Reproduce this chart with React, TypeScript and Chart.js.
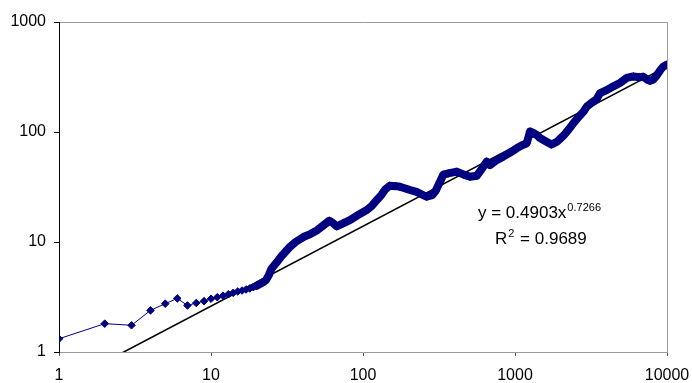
import React, { useEffect, useRef } from 'react';
import { Chart, registerables } from 'chart.js';

Chart.register(...registerables);

const xValues = [
  1, 2, 3, 4, 5, 6, 7, 8, 9, 10,
  11, 12, 13, 14, 15, 16, 17, 18, 19, 20,
  22, 23, 24, 25, 27, 29, 31, 33, 36, 40.5,
  45, 50, 55, 60, 63, 67, 74, 82, 92, 106,
  115, 123, 132, 140, 150, 165, 175, 204, 225, 262,
  285, 300, 321, 338, 364, 414, 460, 506, 560, 610,
  651, 685, 750, 837, 930, 1025, 1120, 1194, 1256, 1320,
  1390, 1460, 1600, 1740, 1900, 2090, 2250, 2420, 2600, 2820,
  2965, 3200, 3440, 3630, 4000, 4440, 4900, 5430, 6000, 6610,
  6980, 7400, 7730, 8130, 8540, 8770, 9100, 9460, 10000,
];
const yValues = [
  1.32, 1.81, 1.75, 2.39, 2.75, 3.07, 2.65, 2.79, 2.9, 3.05,
  3.15, 3.25, 3.35, 3.45, 3.55, 3.62, 3.7, 3.78, 3.88, 4.0,
  4.3, 4.5, 5.0, 5.7, 6.5, 7.4, 8.2, 9.0, 10.0, 11.1,
  11.8, 12.8, 14.2, 15.6, 15.0, 13.9, 14.8, 15.8, 17.5, 19.5,
  21.5, 24, 26.7, 30, 32.5, 32.2, 31.8, 29.7, 28.6, 25.8,
  26.7, 29, 35.3, 41, 42, 43.6, 41, 39.2, 40, 47,
  53.8, 50, 55, 59.7, 65, 71, 76, 79, 101, 98,
  94, 88, 82, 77, 82, 93, 105, 120, 135, 153,
  170, 185, 198, 226, 240, 260, 279, 310, 320, 315,
  318, 300, 292, 300, 325, 344, 370, 394, 409,
];

// Power trend line y = a * x^b
const trendCoef = 0.4903;
const trendExp = 0.7266;
const rSquared = 0.9689;

const xTicks = [1, 10, 100, 1000, 10000];
const yTicks = [1, 10, 100, 1000];

const FONT = '"Liberation Sans", Arial, sans-serif';

const equationPlugin = {
  id: 'equationText',
  afterDraw(chart: any) {
    const ctx = chart.ctx;
    ctx.save();
    ctx.fillStyle = '#000';
    ctx.textBaseline = 'alphabetic';
    ctx.textAlign = 'left';
    const main = `y = ${trendCoef}x`;
    ctx.font = `17px ${FONT}`;
    const x0 = 478;
    const y0 = 218;
    ctx.fillText(main, x0, y0);
    const w = ctx.measureText(main).width;
    ctx.font = `11px ${FONT}`;
    ctx.fillText(String(trendExp), x0 + w + 1, y0 - 7);

    const x1 = 495;
    const y1 = 244;
    ctx.font = `17px ${FONT}`;
    ctx.fillText('R', x1, y1);
    const wr = ctx.measureText('R').width;
    ctx.font = `11px ${FONT}`;
    ctx.fillText('2', x1 + wr + 1, y1 - 7);
    const w2 = ctx.measureText('2').width;
    ctx.font = `17px ${FONT}`;
    ctx.fillText(` = ${rSquared}`, x1 + wr + w2 + 2, y1);
    ctx.restore();
  },
};

export default function App() {
  const ref = useRef<HTMLCanvasElement | null>(null);

  useEffect(() => {
    if (!ref.current) return;
    const series = xValues.map((x, i) => ({ x, y: yValues[i] }));
    const xMin = xTicks[0];
    const xMax = xTicks[xTicks.length - 1];
    const trend = [xMin, xMax].map((x) => ({ x, y: trendCoef * Math.pow(x, trendExp) }));

    const chart = new Chart(ref.current, {
      type: 'scatter',
      data: {
        datasets: [
          {
            data: trend,
            showLine: true,
            borderColor: '#000',
            borderWidth: 1.6,
            pointRadius: 0,
            order: 2,
          },
          {
            data: series,
            showLine: true,
            borderColor: '#000080',
            backgroundColor: '#000080',
            borderWidth: 1,
            borderJoinStyle: 'round',
            borderCapStyle: 'round',
            pointStyle: 'rectRot',
            pointRadius: 3.8,
            pointBorderWidth: 1,
            pointBorderColor: '#000080',
            pointBackgroundColor: '#000080',
            order: 1,
            segment: {
              borderWidth: (c: any) => (c.p0.parsed.x >= 20 ? 8 : 1),
            },
          } as any,
        ],
      },
      options: {
        animation: false,
        responsive: false,
        maintainAspectRatio: false,
        layout: { padding: { top: 22, right: 25, left: 0, bottom: 0 } },
        plugins: { legend: { display: false }, tooltip: { enabled: false } },
        scales: {
          x: {
            type: 'logarithmic',
            min: xMin,
            max: xMax,
            afterBuildTicks: (s: any) => {
              s.ticks = xTicks.map((v) => ({ value: v }));
            },
            afterFit: (s: any) => {
              s.height = 31;
              s.paddingLeft = 0;
              s.paddingRight = 0;
            },
            ticks: {
              autoSkip: false,
              maxRotation: 0,
              padding: 10,
              color: '#000',
              font: { family: FONT, size: 16 },
              callback: (v: any) => String(v),
            },
            grid: {
              color: (c: any) => (c.tick && c.tick.value === xMax ? '#9a9a9a' : 'rgba(0,0,0,0)'),
              tickColor: '#555',
              tickLength: 4,
              lineWidth: 1,
            },
            border: { color: '#9a9a9a', width: 1 },
          },
          y: {
            type: 'logarithmic',
            min: yTicks[0],
            max: yTicks[yTicks.length - 1],
            afterBuildTicks: (s: any) => {
              s.ticks = yTicks.map((v) => ({ value: v }));
            },
            afterFit: (s: any) => {
              s.width = 59;
              s.paddingTop = 0;
              s.paddingBottom = 0;
            },
            ticks: {
              autoSkip: false,
              padding: 8,
              color: '#000',
              font: { family: FONT, size: 16 },
              callback: (v: any) => String(v),
            },
            grid: {
              color: (c: any) =>
                c.tick && c.tick.value === yTicks[yTicks.length - 1] ? '#9a9a9a' : 'rgba(0,0,0,0)',
              tickColor: '#000',
              tickLength: 5,
              lineWidth: 1,
            },
            border: { color: '#000', width: 1 },
          },
        },
      },
      plugins: [equationPlugin],
    });
    return () => chart.destroy();
  }, []);

  return (
    <div style={{ position: 'fixed', left: 0, top: 0, width: 692, height: 383, background: '#fff' }}>
      <canvas ref={ref} width={692} height={383} style={{ width: 692, height: 383 }} />
    </div>
  );
}
